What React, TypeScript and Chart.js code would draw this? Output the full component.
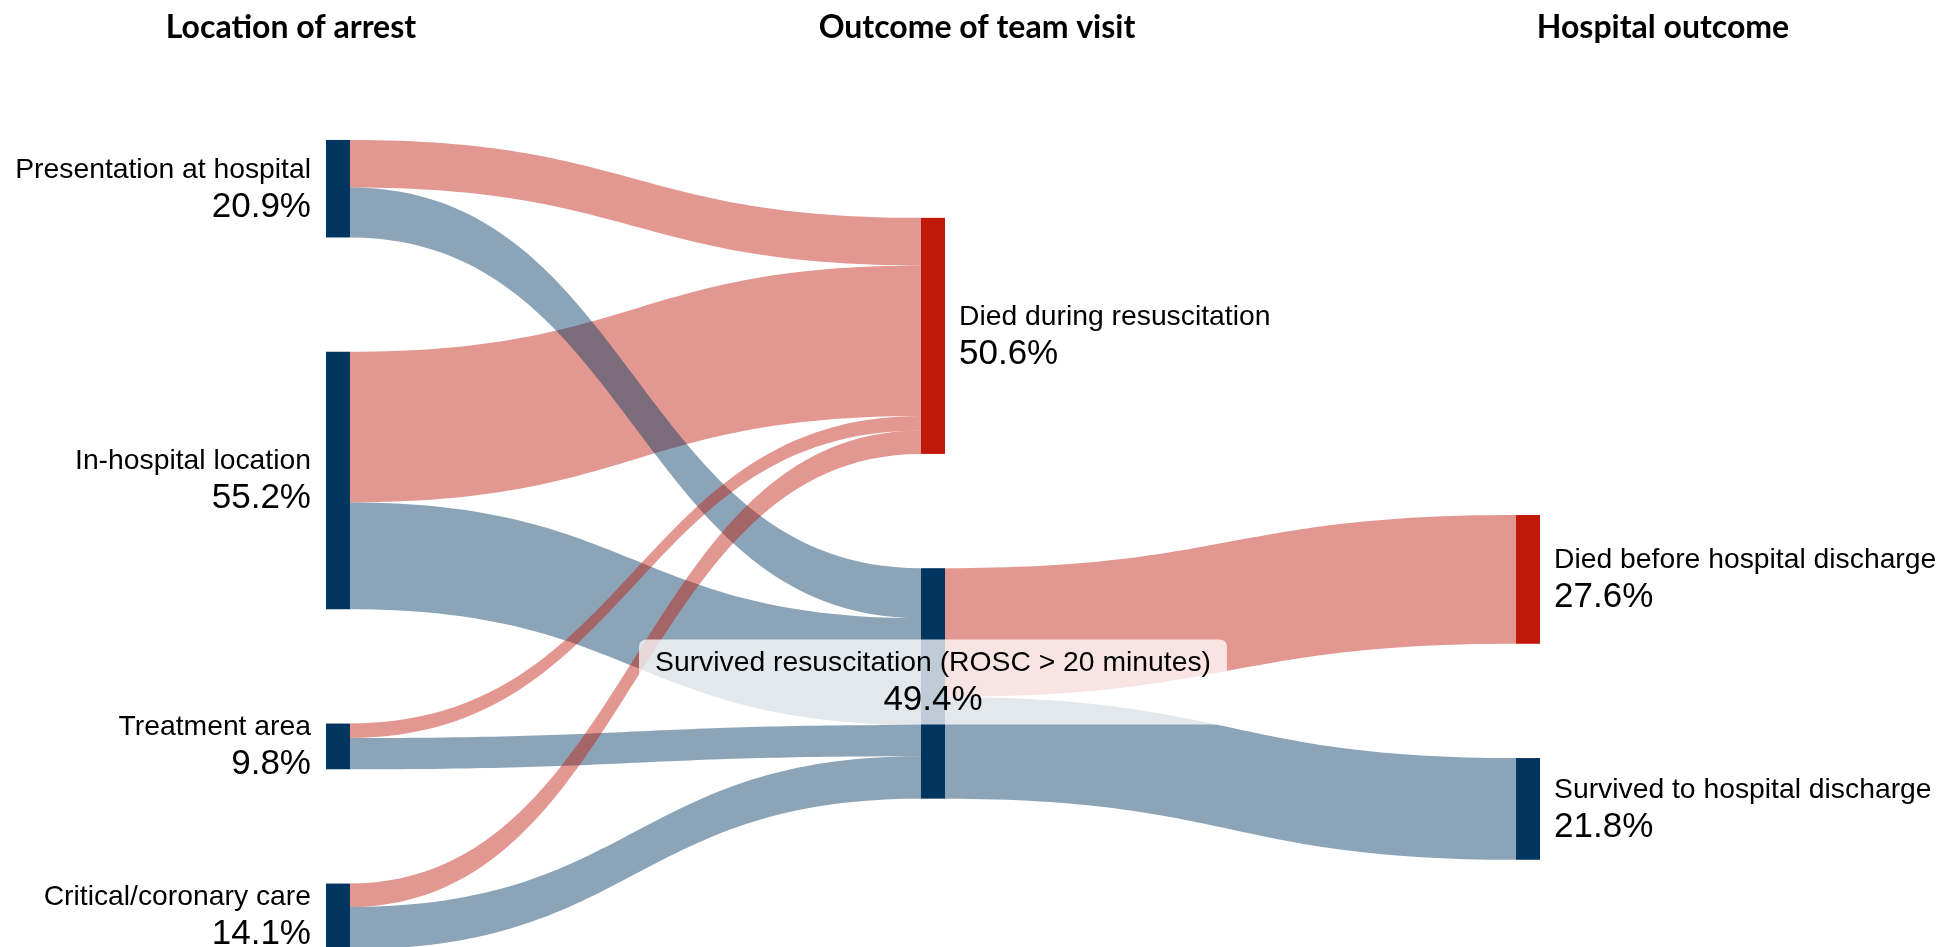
import React, { useEffect, useRef } from 'react';
import { Chart, registerables } from 'chart.js';

Chart.register(...registerables);

// ---------- data ----------
const columnTitles = ['Location of arrest', 'Outcome of team visit', 'Hospital outcome'];

const nodeLabels = [
  'Presentation at hospital',
  'In-hospital location',
  'Treatment area',
  'Critical/coronary care',
  'Died during resuscitation',
  'Survived resuscitation (ROSC > 20 minutes)',
  'Died before hospital discharge',
  'Survived to hospital discharge',
];
const nodeColumns = [0, 0, 0, 0, 1, 1, 2, 2];
const nodeOutcomes = ['alive', 'alive', 'alive', 'alive', 'died', 'alive', 'died', 'alive'];

// link order = drawing order
const linkSources = [0, 1, 0, 1, 2, 2, 3, 3, 5, 5];
const linkTargets = [4, 4, 5, 5, 4, 5, 4, 5, 6, 7];
const linkValues = [10.2, 32.3, 10.7, 22.9, 3.1, 6.7, 5.0, 9.1, 27.6, 21.8];

// ---------- layout / style ----------
const Y_MAX = 203; // value units shown over the canvas height
const X_MIN = -0.568;
const X_MAX = 2.7075;
const COLUMN_TOP = [30.0, 46.7, 110.4]; // value units of first node per column
const NODE_GAP = 24.5;
const NODE_WIDTH = 24;
const TITLE_X = [291, 977, 1663];
const COLORS: Record<string, string> = { alive: '#00355F', died: '#C0190A' };
const LINK_COLORS: Record<string, string> = {
  alive: 'rgba(0, 53, 95, 0.45)',
  died: 'rgba(192, 25, 10, 0.45)',
};
const LABEL_FONT = '28.3px "Liberation Sans", Arial, sans-serif';
const PCT_FONT = '35px "Liberation Sans", Arial, sans-serif';
const TITLE_FONT = 'bold 32px Lato, "Open Sans", sans-serif';

function roundRect(ctx: CanvasRenderingContext2D, x: number, y: number, w: number, h: number, r: number) {
  ctx.beginPath();
  ctx.moveTo(x + r, y);
  ctx.lineTo(x + w - r, y);
  ctx.quadraticCurveTo(x + w, y, x + w, y + r);
  ctx.lineTo(x + w, y + h - r);
  ctx.quadraticCurveTo(x + w, y + h, x + w - r, y + h);
  ctx.lineTo(x + r, y + h);
  ctx.quadraticCurveTo(x, y + h, x, y + h - r);
  ctx.lineTo(x, y + r);
  ctx.quadraticCurveTo(x, y, x + r, y);
  ctx.closePath();
}

const sankeyPlugin = {
  id: 'sankeyPlugin',
  afterDatasetsDraw(chart: any) {
    const ctx: CanvasRenderingContext2D = chart.ctx;
    const xs = chart.scales.x;
    const ys = chart.scales.y;
    const n = nodeLabels.length;
    const inSum = new Array(n).fill(0);
    const outSum = new Array(n).fill(0);
    linkValues.forEach((v, i) => {
      outSum[linkSources[i]] += v;
      inSum[linkTargets[i]] += v;
    });
    const nodeValue = inSum.map((v, i) => Math.max(v, outSum[i]));
    const nodeTop = new Array(n).fill(0);
    const cursor = COLUMN_TOP.slice();
    for (let i = 0; i < n; i++) {
      const c = nodeColumns[i];
      nodeTop[i] = cursor[c];
      cursor[c] += nodeValue[i] + NODE_GAP;
    }
    // stacking offsets
    const srcOff: number[] = new Array(linkValues.length).fill(0);
    const tgtOff: number[] = new Array(linkValues.length).fill(0);
    for (let node = 0; node < n; node++) {
      const outs = linkValues.map((_, i) => i).filter((i) => linkSources[i] === node)
        .sort((a, b) => linkTargets[a] - linkTargets[b]);
      let acc = nodeTop[node];
      outs.forEach((i) => { srcOff[i] = acc; acc += linkValues[i]; });
      const ins = linkValues.map((_, i) => i).filter((i) => linkTargets[i] === node)
        .sort((a, b) => linkSources[a] - linkSources[b]);
      acc = nodeTop[node];
      ins.forEach((i) => { tgtOff[i] = acc; acc += linkValues[i]; });
    }

    ctx.save();
    // links
    linkValues.forEach((v, i) => {
      const s = linkSources[i];
      const t = linkTargets[i];
      const x0 = xs.getPixelForValue(nodeColumns[s]) + NODE_WIDTH / 2;
      const x1 = xs.getPixelForValue(nodeColumns[t]) - NODE_WIDTH / 2;
      const xm = (x0 + x1) / 2;
      const y0t = ys.getPixelForValue(srcOff[i]);
      const y0b = ys.getPixelForValue(srcOff[i] + v);
      const y1t = ys.getPixelForValue(tgtOff[i]);
      const y1b = ys.getPixelForValue(tgtOff[i] + v);
      ctx.beginPath();
      ctx.moveTo(x0, y0t);
      ctx.bezierCurveTo(xm, y0t, xm, y1t, x1, y1t);
      ctx.lineTo(x1, y1b);
      ctx.bezierCurveTo(xm, y1b, xm, y0b, x0, y0b);
      ctx.closePath();
      ctx.fillStyle = LINK_COLORS[nodeOutcomes[t]];
      ctx.fill();
    });
    // nodes
    for (let i = 0; i < n; i++) {
      const xc = xs.getPixelForValue(nodeColumns[i]);
      const yt = ys.getPixelForValue(nodeTop[i]);
      const yb = ys.getPixelForValue(nodeTop[i] + nodeValue[i]);
      ctx.fillStyle = COLORS[nodeOutcomes[i]];
      ctx.fillRect(xc - NODE_WIDTH / 2, yt, NODE_WIDTH, yb - yt);
    }
    // labels
    ctx.fillStyle = '#000';
    ctx.textBaseline = 'alphabetic';
    for (let i = 0; i < n; i++) {
      const xc = xs.getPixelForValue(nodeColumns[i]);
      const yc = (ys.getPixelForValue(nodeTop[i]) + ys.getPixelForValue(nodeTop[i] + nodeValue[i])) / 2;
      const pct = nodeValue[i].toFixed(1) + '%';
      const hasIn = inSum[i] > 0;
      const hasOut = outSum[i] > 0;
      if (!hasIn) {
        ctx.textAlign = 'right';
        const lx = xc - NODE_WIDTH / 2 - 15;
        ctx.font = LABEL_FONT;
        ctx.fillText(nodeLabels[i], lx, yc - 11);
        ctx.font = PCT_FONT;
        ctx.fillText(pct, lx, yc + 28);
      } else if (hasIn && hasOut) {
        ctx.font = LABEL_FONT;
        const w = ctx.measureText(nodeLabels[i]).width;
        const bw = w + 32;
        ctx.fillStyle = 'rgba(255,255,255,0.75)';
        roundRect(ctx, xc - bw / 2, yc - 44, bw, 85, 8);
        ctx.fill();
        ctx.fillStyle = '#000';
        ctx.textAlign = 'center';
        ctx.fillText(nodeLabels[i], xc, yc - 12);
        ctx.font = PCT_FONT;
        ctx.fillText(pct, xc, yc + 27);
      } else {
        ctx.textAlign = 'left';
        const lx = xc + NODE_WIDTH / 2 + 14;
        ctx.font = LABEL_FONT;
        ctx.fillText(nodeLabels[i], lx, yc - 11);
        ctx.font = PCT_FONT;
        ctx.fillText(pct, lx, yc + 28);
      }
    }
    // column titles
    ctx.font = TITLE_FONT;
    ctx.textAlign = 'center';
    ctx.fillStyle = '#000';
    columnTitles.forEach((t, i) => ctx.fillText(t, TITLE_X[i], 37.5));
    ctx.restore();
  },
};

export default function App() {
  const canvasRef = useRef<HTMLCanvasElement | null>(null);
  useEffect(() => {
    const canvas = canvasRef.current;
    if (!canvas) return;
    const chart = new Chart(canvas, {
      type: 'scatter',
      data: { datasets: [{ data: [] }] },
      options: {
        animation: false,
        responsive: false,
        maintainAspectRatio: false,
        events: [],
        layout: { padding: 0 },
        plugins: {
          legend: { display: false },
          tooltip: { enabled: false },
          title: { display: false },
        },
        scales: {
          x: { type: 'linear', display: false, min: X_MIN, max: X_MAX },
          y: { type: 'linear', display: false, min: 0, max: Y_MAX, reverse: true },
        },
      },
      plugins: [sankeyPlugin],
    } as any);
    return () => chart.destroy();
  }, []);
  return (
    <div style={{ position: 'fixed', left: 0, top: 0, width: 1949, height: 947, background: '#fff' }}>
      <canvas ref={canvasRef} width={1949} height={947} style={{ display: 'block', width: 1949, height: 947 }} />
    </div>
  );
}
